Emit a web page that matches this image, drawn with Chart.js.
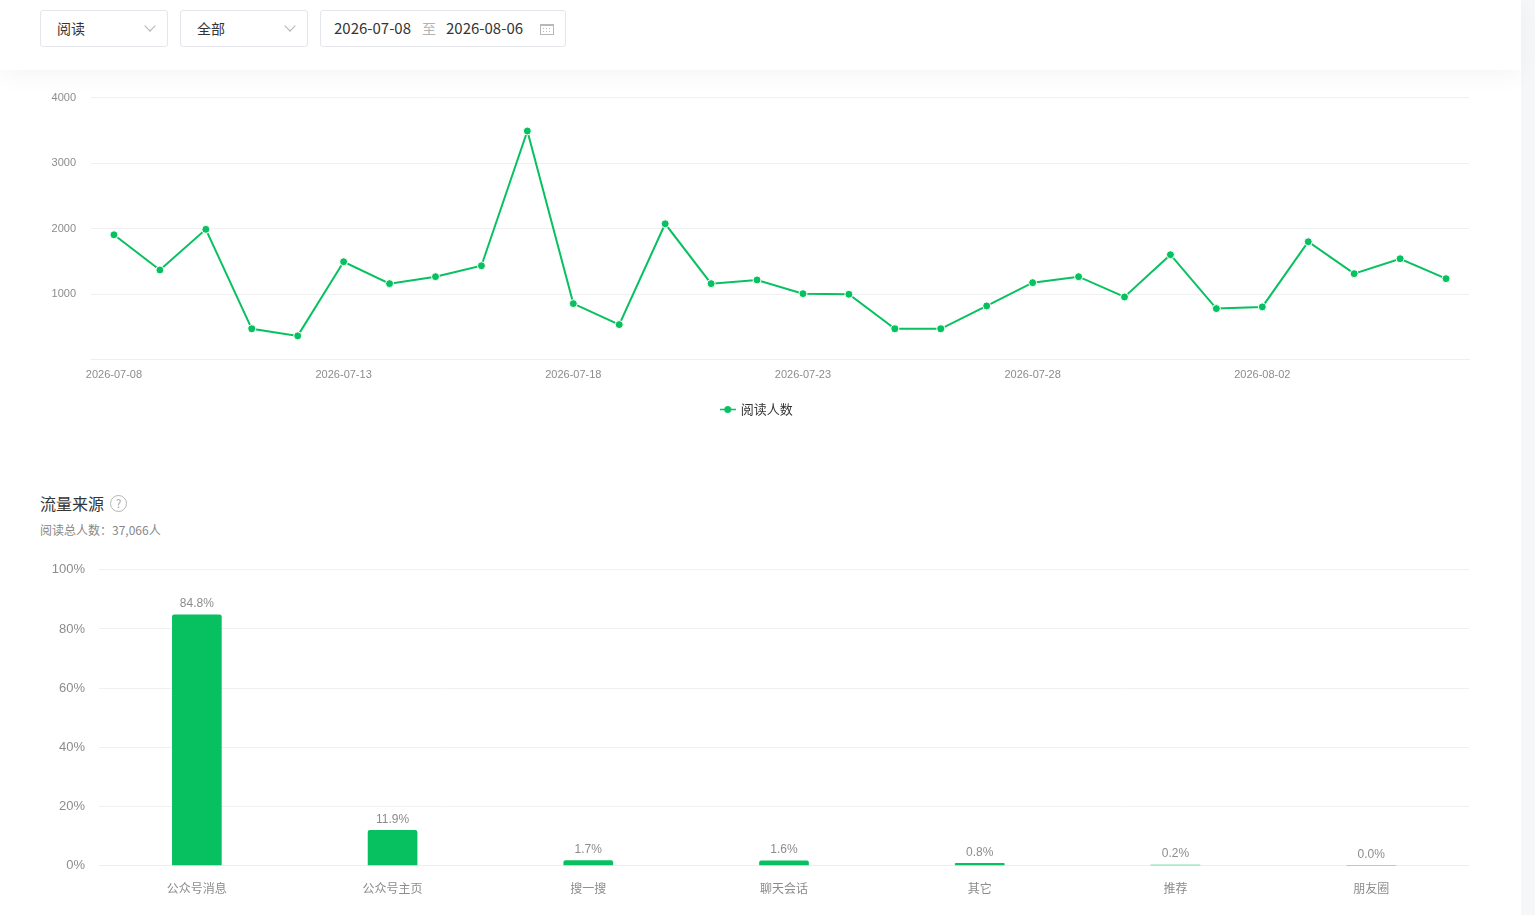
<!DOCTYPE html>
<html lang="zh-CN">
<head>
  <meta charset="UTF-8">
  <title>阅读分析</title>
  <script src="https://cdn.jsdelivr.net/npm/chart.js"></script>
  <style>
    html, body { margin: 0; padding: 0; background: #f6f7f9; overflow: hidden; }
    body { font-family: "Noto Sans CJK SC", "Noto Sans", sans-serif; color: #353535; }
    .page { position: relative; width: 1521px; height: 915px; background: #fff; }
    .top-bar { position: absolute; left: 0; top: 0; width: 1521px; height: 70px; background: #fff;
      box-shadow: 0 6px 24px rgba(0,0,0,0.045); z-index: 2; }
    .select, .date-box { position: absolute; top: 10px; height: 37px; border: 1px solid #e4e6eb; border-radius: 3px;
      box-sizing: border-box; font-size: 14px; line-height: 34px; background: #fff; }
    .select { width: 128px; padding-left: 16px; }
    .select::after { content: ""; position: absolute; right: 13px; top: 11px; width: 7px; height: 7px;
      border-right: 1px solid #b2b2b2; border-bottom: 1px solid #b2b2b2; transform: rotate(45deg); }
    .date-box { left: 320px; width: 246px; padding-left: 13px; font-size: 15px; }
    .date-box .to { color: #b2b2b2; margin: 0 10px 0 11px; font-size: 14px; }
    .cal { position: absolute; right: 11px; top: 13px; width: 14px; height: 11px; border: 1px solid #b8b8b8; border-top-width: 2px; box-sizing: border-box; }
    .cal::after { content: ""; position: absolute; left: 2px; top: 2px; width: 1px; height: 1px; background: #b8b8b8;
      box-shadow: 3px 0 #b8b8b8, 6px 0 #b8b8b8, 0 3px #b8b8b8, 3px 3px #b8b8b8, 6px 3px #b8b8b8; }
    .line-wrap { position: absolute; left: 40px; top: 76px; width: 1434px; height: 350px; }
    .section-title { position: absolute; left: 40px; top: 491px; font-size: 16px; color: #353535; }
    .help { position: absolute; left: 110px; top: 495px; width: 15px; height: 15px; border: 1px solid #b5b5b5; border-radius: 50%;
      font-size: 11px; line-height: 15px; text-align: center; color: #a5a5a5; }
    .sub { position: absolute; left: 40px; top: 521px; font-size: 12px; color: #888; }
    .bar-wrap { position: absolute; left: 40px; top: 548px; width: 1429px; height: 364px; }
  </style>
</head>
<body>
<div class="page">
  <div class="top-bar">
    <div class="select" style="left:40px">阅读</div>
    <div class="select" style="left:180px">全部</div>
    <div class="date-box">2026-07-08<span class="to">至</span>2026-08-06<span class="cal"></span></div>
  </div>

  <div class="line-wrap"><canvas id="readChart"></canvas></div>

  <div class="section-title">流量来源</div>
  <div class="help">?</div>
  <div class="sub">阅读总人数：37,066人</div>

  <div class="bar-wrap"><canvas id="sourceChart"></canvas></div>
</div>

<script>
  // daily readers, 2026-07-08 .. 2026-08-06
  var dates = [
    '2026-07-08', '2026-07-09', '2026-07-10', '2026-07-11', '2026-07-12',
    '2026-07-13', '2026-07-14', '2026-07-15', '2026-07-16', '2026-07-17',
    '2026-07-18', '2026-07-19', '2026-07-20', '2026-07-21', '2026-07-22',
    '2026-07-23', '2026-07-24', '2026-07-25', '2026-07-26', '2026-07-27',
    '2026-07-28', '2026-07-29', '2026-07-30', '2026-07-31', '2026-08-01',
    '2026-08-02', '2026-08-03', '2026-08-04', '2026-08-05', '2026-08-06'
  ];
  var readers = [
    1907, 1370, 1990, 472, 365,
    1496, 1162, 1268, 1435, 3490,
    857, 537, 2075, 1162, 1218,
    1009, 1000, 472, 472, 822,
    1177, 1268, 959, 1603, 781,
    807, 1801, 1314, 1542, 1238
  ];
  var yTicks = [0, 1000, 2000, 3000, 4000];

  // traffic sources (percent)
  var sources = ['公众号消息', '公众号主页', '搜一搜', '聊天会话', '其它', '推荐', '朋友圈'];
  var sourceShare = [84.8, 11.9, 1.7, 1.6, 0.8, 0.2, 0.0];
  var pctTicks = [0, 20, 40, 60, 80, 100];

  var GREEN = '#07c160';
  var tickFont = { family: "'Liberation Sans', Arial, sans-serif", size: 11 };

  // legend icon: short line with a dot in the middle
  var legendIcon = document.createElement('canvas');
  legendIcon.width = 16; legendIcon.height = 9;
  var ic = legendIcon.getContext('2d');
  ic.strokeStyle = GREEN; ic.lineWidth = 1.5;
  ic.beginPath(); ic.moveTo(0, 4.5); ic.lineTo(16, 4.5); ic.stroke();
  ic.fillStyle = GREEN; ic.beginPath(); ic.arc(8, 4.5, 3.5, 0, Math.PI * 2); ic.fill();

  new Chart(document.getElementById('readChart'), {
    type: 'line',
    data: {
      labels: dates,
      datasets: [{
        label: '阅读人数',
        data: readers,
        borderColor: GREEN,
        backgroundColor: GREEN,
        borderWidth: 2,
        pointRadius: 4,
        pointBorderColor: '#fff',
        pointBorderWidth: 1,
        pointBackgroundColor: GREEN,
        tension: 0
      }]
    },
    options: {
      responsive: true,
      maintainAspectRatio: false,
      animation: false,
      layout: { padding: 0 },
      scales: {
        x: {
          offset: true,
          grid: { display: false, drawTicks: false },
          border: { color: '#eeeeee' },
          ticks: {
            autoSkip: false, maxRotation: 0, padding: 9, color: '#8c8c8c', font: tickFont,
            callback: function(v, i) { return i % 5 === 0 ? dates[i] : ''; }
          }
        },
        y: {
          min: yTicks[0], max: yTicks[yTicks.length - 1],
          afterBuildTicks: function(s) { s.ticks = yTicks.map(function(v) { return { value: v }; }); },
          afterFit: function(s) { s.width = 51; },
          grid: { color: '#f0f0f0', drawTicks: false },
          border: { display: false },
          ticks: {
            padding: 15, color: '#8c8c8c', font: tickFont,
            callback: function(v) { return v === 0 ? '' : v; }
          }
        }
      },
      plugins: {
        legend: {
          position: 'bottom',
          labels: {
            usePointStyle: true, pointStyle: legendIcon, padding: 12,
            color: '#353535', font: { family: "'Noto Sans CJK SC', sans-serif", size: 13 }
          }
        },
        tooltip: { enabled: false }
      }
    }
  });

  // percent label above each bar
  var barLabels = {
    id: 'barLabels',
    afterDatasetsDraw: function(chart) {
      var ctx = chart.ctx;
      ctx.save();
      ctx.font = "12px 'Liberation Sans', Arial, sans-serif";
      ctx.fillStyle = '#8c8c8c';
      ctx.textAlign = 'center';
      ctx.textBaseline = 'middle';
      chart.getDatasetMeta(0).data.forEach(function(bar, i) {
        ctx.fillText(sourceShare[i].toFixed(1) + '%', bar.x, bar.y - 11);
      });
      ctx.restore();
    }
  };

  new Chart(document.getElementById('sourceChart'), {
    type: 'bar',
    data: {
      labels: sources,
      datasets: [{
        data: sourceShare,
        backgroundColor: GREEN,
        barThickness: 49,
        borderRadius: { topLeft: 2, topRight: 2 },
        borderSkipped: 'bottom'
      }]
    },
    options: {
      responsive: true,
      maintainAspectRatio: false,
      animation: false,
      scales: {
        x: {
          grid: { display: false, drawTicks: false },
          border: { color: '#eeeeee' },
          ticks: { padding: 16, color: '#8c8c8c', font: { family: "'Noto Sans CJK SC', sans-serif", size: 12 } }
        },
        y: {
          min: pctTicks[0], max: pctTicks[pctTicks.length - 1],
          afterBuildTicks: function(s) { s.ticks = pctTicks.map(function(v) { return { value: v }; }); },
          afterFit: function(s) { s.width = 59; },
          grid: { color: '#f0f0f0', drawTicks: false },
          border: { display: false },
          ticks: {
            padding: 14, color: '#8c8c8c', font: { family: "'Liberation Sans', Arial, sans-serif", size: 13 },
            callback: function(v) { return v + '%'; }
          }
        }
      },
      plugins: { legend: { display: false }, tooltip: { enabled: false } }
    },
    plugins: [barLabels]
  });
</script>
</body>
</html>
